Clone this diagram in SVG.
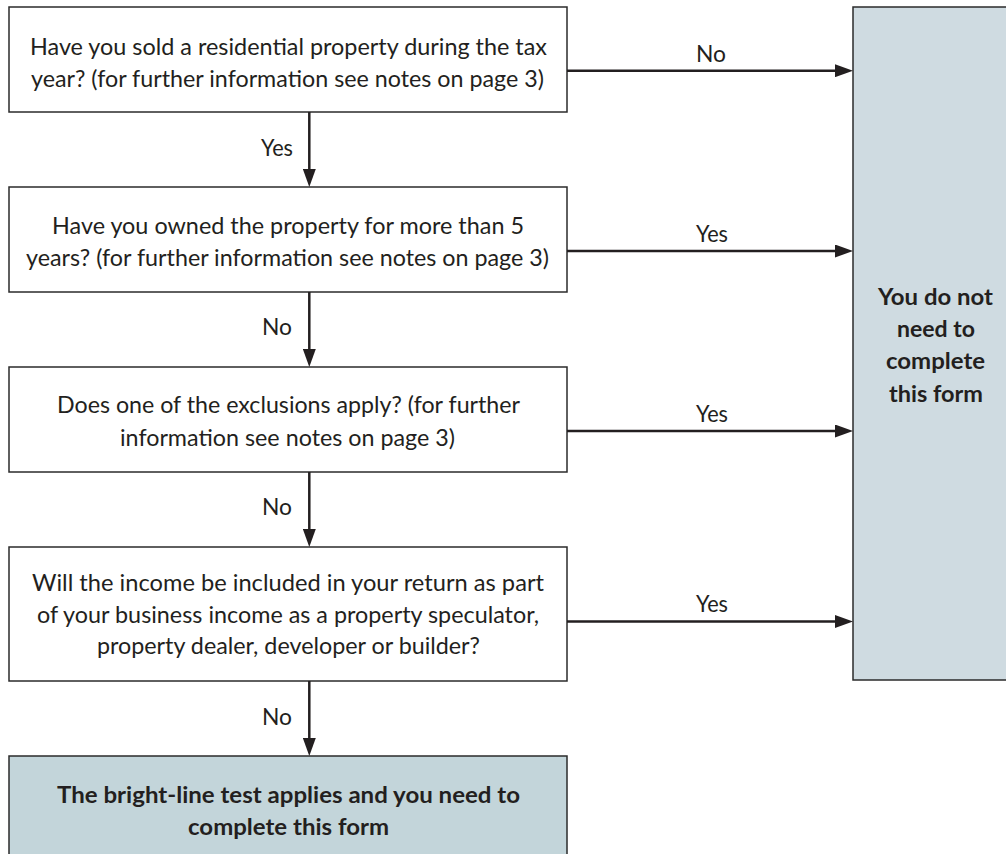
<svg xmlns="http://www.w3.org/2000/svg" width="1006" height="854" viewBox="0 0 1006 854">
  <style>
    .box { fill: #ffffff; stroke: #2b2b2b; stroke-width: 1.5; }
    .endR { fill: #cfdbe1; stroke: #2b2b2b; stroke-width: 1.5; }
    .endB { fill: #c3d5da; stroke: #2b2b2b; stroke-width: 1.5; }
    .t { font-family: Lato, "Open Sans", "Liberation Sans", sans-serif; font-size: 23px; fill: #231f20; }
    .b { font-family: Lato, "Open Sans", "Liberation Sans", sans-serif; font-size: 23px; font-weight: bold; fill: #231f20; }
    .lbl { font-family: Lato, "Open Sans", "Liberation Sans", sans-serif; font-size: 23px; fill: #231f20; }
    .conn { stroke: #231f20; stroke-width: 2.5; fill: none; }
  </style>
  <defs>
    <marker id="ah" markerUnits="userSpaceOnUse" markerWidth="18" markerHeight="13" refX="8" refY="6.5" orient="auto">
      <path d="M0,0 L18,6.5 L0,13 Z" fill="#231f20"/>
    </marker>
  </defs>

  <g id="q1">
    <rect class="box" x="9" y="7" width="558" height="105"/>
    <text class="t" x="30" y="55" textLength="517" lengthAdjust="spacingAndGlyphs">Have you sold a residential property during the tax</text>
    <text class="t" x="31" y="87" textLength="513" lengthAdjust="spacingAndGlyphs">year? (for further information see notes on page 3)</text>
  </g>

  <g id="q2">
    <rect class="box" x="9" y="187" width="558" height="105"/>
    <text class="t" x="52" y="234" textLength="472" lengthAdjust="spacingAndGlyphs">Have you owned the property for more than 5</text>
    <text class="t" x="26" y="266" textLength="523" lengthAdjust="spacingAndGlyphs">years? (for further information see notes on page 3)</text>
  </g>

  <g id="q3">
    <rect class="box" x="9" y="367" width="558" height="105"/>
    <text class="t" x="57" y="413" textLength="463" lengthAdjust="spacingAndGlyphs">Does one of the exclusions apply? (for further</text>
    <text class="t" x="120" y="446" textLength="335" lengthAdjust="spacingAndGlyphs">information see notes on page 3)</text>
  </g>

  <g id="q4">
    <rect class="box" x="9" y="547" width="558" height="134"/>
    <text class="t" x="32" y="591" textLength="512" lengthAdjust="spacingAndGlyphs">Will the income be included in your return as part</text>
    <text class="t" x="37" y="623" textLength="502" lengthAdjust="spacingAndGlyphs">of your business income as a property speculator,</text>
    <text class="t" x="97" y="654" textLength="383" lengthAdjust="spacingAndGlyphs">property dealer, developer or builder?</text>
  </g>

  <g id="result-no">
    <rect class="endR" x="853" y="7" width="170" height="673"/>
    <text class="b" x="878" y="305" textLength="115" lengthAdjust="spacingAndGlyphs">You do not</text>
    <text class="b" x="897" y="337" textLength="78" lengthAdjust="spacingAndGlyphs">need to</text>
    <text class="b" x="886" y="369" textLength="99" lengthAdjust="spacingAndGlyphs">complete</text>
    <text class="b" x="889" y="402" textLength="94" lengthAdjust="spacingAndGlyphs">this form</text>
  </g>

  <g id="result-yes">
    <rect class="endB" x="9" y="756" width="558" height="110"/>
    <text class="b" x="57" y="803" textLength="463" lengthAdjust="spacingAndGlyphs">The bright-line test applies and you need to</text>
    <text class="b" x="188" y="835" textLength="201" lengthAdjust="spacingAndGlyphs">complete this form</text>
  </g>

  <g id="connectors">
    <line class="conn" x1="309.3" y1="112" x2="309.3" y2="177" marker-end="url(#ah)"/>
    <line class="conn" x1="309.3" y1="292" x2="309.3" y2="357" marker-end="url(#ah)"/>
    <line class="conn" x1="309.3" y1="472" x2="309.3" y2="537" marker-end="url(#ah)"/>
    <line class="conn" x1="309.3" y1="681" x2="309.3" y2="746" marker-end="url(#ah)"/>
    <line class="conn" x1="567" y1="70.7" x2="843" y2="70.7" marker-end="url(#ah)"/>
    <line class="conn" x1="567" y1="251" x2="843" y2="251" marker-end="url(#ah)"/>
    <line class="conn" x1="567" y1="431" x2="843" y2="431" marker-end="url(#ah)"/>
    <line class="conn" x1="567" y1="621.5" x2="843" y2="621.5" marker-end="url(#ah)"/>
    <text class="lbl" x="261" y="156" textLength="32" lengthAdjust="spacingAndGlyphs">Yes</text>
    <text class="lbl" x="262" y="335" textLength="30" lengthAdjust="spacingAndGlyphs">No</text>
    <text class="lbl" x="262" y="515" textLength="30" lengthAdjust="spacingAndGlyphs">No</text>
    <text class="lbl" x="262" y="725" textLength="30" lengthAdjust="spacingAndGlyphs">No</text>
    <text class="lbl" x="696" y="62" textLength="30" lengthAdjust="spacingAndGlyphs">No</text>
    <text class="lbl" x="696" y="242" textLength="32" lengthAdjust="spacingAndGlyphs">Yes</text>
    <text class="lbl" x="696" y="422" textLength="32" lengthAdjust="spacingAndGlyphs">Yes</text>
    <text class="lbl" x="696" y="612" textLength="32" lengthAdjust="spacingAndGlyphs">Yes</text>
  </g>
</svg>
